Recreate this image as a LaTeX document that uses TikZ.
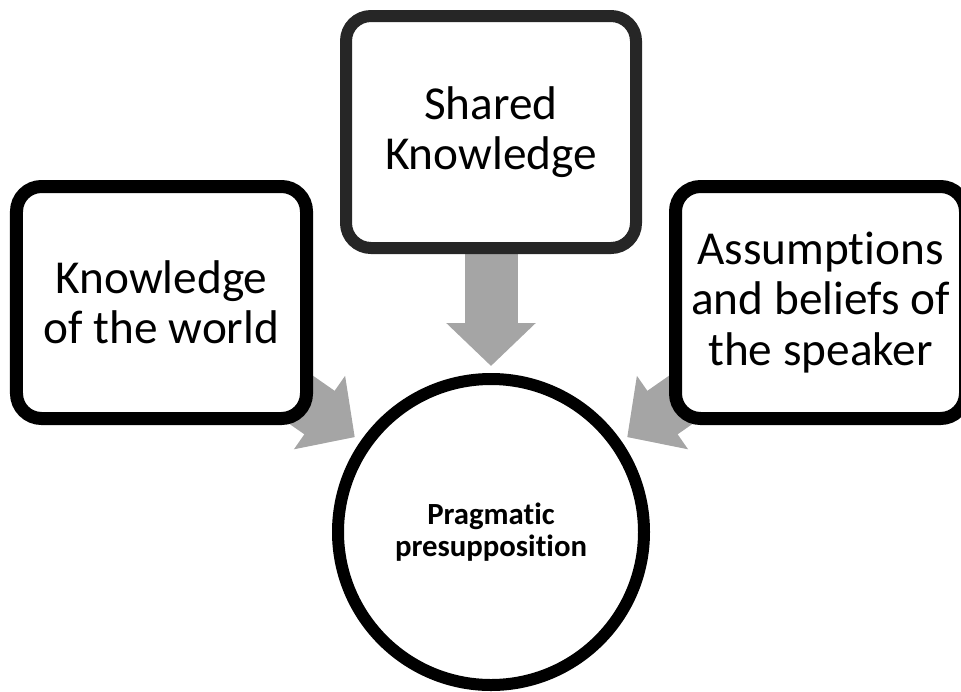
\documentclass[tikz,border=0pt]{standalone}
\usepackage{fontspec}
\setmainfont[Ligatures=NoCommon]{Carlito}
\usepackage{tikz}
\usetikzlibrary{arrows.meta, backgrounds, calc}
\definecolor{arrow_gray}{HTML}{A5A5A5}
\definecolor{frame_dark}{HTML}{262626}
\tikzset{
  box_font/.style = {font=\fontsize{26.9}{28.5}\selectfont},
  core_font/.style = {font=\fontsize{17.5}{17.8}\selectfont\bfseries},
  box_size/.style = {minimum width=5.80cm, minimum height=4.64cm}
}
\tikzset{
  box/.style = {box_font, box_size, align=center, draw, line width=0.26cm, rounded corners=0.5cm, fill=white, inner sep=0},
  core/.style = {core_font, align=center, circle, draw, line width=0.24cm, minimum size=6.12cm, fill=white},
  feed/.style = {draw=arrow_gray, line width=1.06cm, -{Triangle[length=0.86cm, width=1.74cm]}}
}
\begin{document}
\begin{tikzpicture}
        \clip (0,0) rectangle (19.22,-13.82);
        
        % Centre
        \node[core] at (9.82,-10.64) (press) {
            Pragmatic \\ presupposition};
        
        % Sources
        \node[box, draw=frame_dark, line width=0.24cm] at (9.82,-2.64) (shared) {
            Shared \\ Knowledge};
        \node[box] at (3.23,-6.05) (world) {
            Knowledge \\ of the world};
        \node[box] at (16.41,-6.05) (speaker) {
            Assumptions \\ and beliefs of \\ the speaker};
        
        % Arrows
        \coordinate (t_world) at ($(press.center)!3.32cm!(world.center)$);
        \coordinate (t_shared) at ($(press.center)!3.32cm!(shared.center)$);
        \coordinate (t_speaker) at ($(press.center)!3.32cm!(speaker.center)$);
        \begin{scope}[on background layer]
            \draw[feed] (world.center)--(t_world);
            \draw[feed] (shared.center)--(t_shared);
            \draw[feed] (speaker.center)--(t_speaker);
        \end{scope}
\end{tikzpicture}
\end{document}
